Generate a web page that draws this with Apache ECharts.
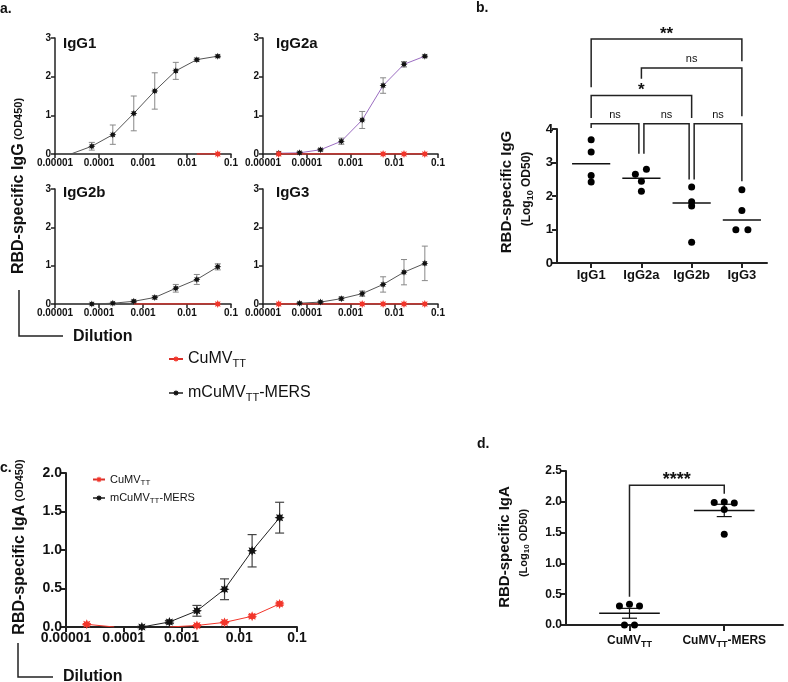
<!DOCTYPE html>
<html><head><meta charset="utf-8">
<script src="https://cdn.jsdelivr.net/npm/echarts@6/dist/echarts.min.js"></script>
<style>html,body{margin:0;padding:0;background:#fff}#c{width:788px;height:682px}</style>
</head><body><div id="c"></div>
<script>
// ---------- DATA ----------
const dilutions = [0.0000229, 0.0000686, 0.000206, 0.000617, 0.00185, 0.00556, 0.0167, 0.05];
const xTickLabels = ['0.00001', '0.0001', '0.001', '0.01', '0.1'];
// panel a : mCuMVTT-MERS (mean, error)
const igg1Mers  = [0, 0.20, 0.50, 1.05, 1.63, 2.15, 2.44, 2.53];
const igg1Err   = [0, 0.10, 0.25, 0.45, 0.47, 0.22, 0.04, 0.03];
const igg2aMers = [0.02, 0.03, 0.11, 0.33, 0.88, 1.77, 2.32, 2.53];
const igg2aErr  = [0, 0.03, 0.03, 0.08, 0.22, 0.20, 0.07, 0.03];
const igg2bMers = [null, 0.00, 0.02, 0.07, 0.17, 0.41, 0.64, 0.97];
const igg2bErr  = [0, 0.02, 0.02, 0.03, 0.04, 0.10, 0.13, 0.08];
const igg3Mers  = [null, 0.02, 0.05, 0.14, 0.27, 0.51, 0.83, 1.06];
const igg3Err   = [0, 0.02, 0.02, 0.04, 0.07, 0.20, 0.33, 0.45];
// panel a : CuMVTT
const igg1Cumv  = [null, null, null, null, null, null, 0, 0];
const igg2aCumv = [0, 0, 0, 0, 0, 0, 0, 0];
const igg2bCumv = [null, null, null, 0, 0, 0, 0, 0];
const igg3Cumv  = [0, 0, 0, 0, 0, 0, 0, 0];
// panel b
const subclasses = ['IgG1', 'IgG2a', 'IgG2b', 'IgG3'];
const bIgG1  = [3.68, 3.31, 2.61, 2.42];
const bIgG2a = [2.65, 2.80, 2.44, 2.14];
const bIgG2b = [2.27, 1.83, 1.70, 0.62];
const bIgG3  = [2.19, 1.57, 0.99, 0.99];
const bMedians = [2.96, 2.53, 1.79, 1.28];
const bSig = ['**', 'ns', '*', 'ns', 'ns', 'ns'];
// panel c
const igaMers    = [null, null, 0.00, 0.065, 0.21, 0.49, 0.99, 1.42];
const igaMersErr = [0, 0, 0.01, 0.02, 0.07, 0.135, 0.21, 0.20];
const igaCumv    = [0.035, 0, null, 0, 0.02, 0.06, 0.14, 0.30];
const igaCumvErr = [0.01, 0, 0, 0, 0.01, 0.01, 0.02, 0.02];
// panel d
const dGroups = ['CuMVTT', 'CuMVTT-MERS'];
const dCumv = [0.31, 0.335, 0.31, 0.00, 0.00];
const dMers = [1.99, 1.995, 1.98, 1.875, 1.475];
const dMeans = [0.19, 1.86];
const dSem = [0.08, 0.10];
const dSig = ['****'];

// ---------- LAYOUT / STYLE ----------
const FONT = '"Liberation Sans", Arial, Helvetica, sans-serif';
const AX = '#222';
function starPath(n, inner) {
  let d = '';
  for (let i = 0; i < 2 * n; i++) {
    const r = i % 2 ? inner : 1;
    const a = Math.PI * i / n - Math.PI / 2;
    d += (i ? 'L' : 'M') + (10 + 10 * r * Math.cos(a)).toFixed(2) + ',' + (10 + 10 * r * Math.sin(a)).toFixed(2);
  }
  return 'path://' + d + 'Z';
}
const STAR = starPath(8, 0.55);
const RED = '#f2352a';

const bJitter = [[0, 0, 0, 0], [-0.12, 0.1, 0, 0], [0, 0, 0, 0], [0, 0, -0.12, 0.12]];
const dJitter = [[-0.106, 0, 0.106, -0.053, 0.053], [-0.106, 0, 0.106, 0, 0]];
// brackets: [x1, x2, yTop, yLeftBottom, yRightBottom]
const bBrackets = [
  [1, 4, 6.69, 5.25, 6.02],
  [2, 4, 5.82, 5.50, 4.38],
  [1, 3, 5.00, 4.33, 4.33],
  [1, 1.95, 4.16, 4.03, 3.26],
  [2.05, 2.95, 4.16, 3.26, 2.49],
  [3.05, 4, 4.16, 2.49, 2.44]
];
const dBrackets = [[1, 2, 2.27, 0.46, 2.13]];

const grids = [
  {left: 55, top: 38, width: 176, height: 116},
  {left: 263, top: 38, width: 175, height: 116},
  {left: 55, top: 189, width: 176, height: 115},
  {left: 263, top: 189, width: 175, height: 115},
  {left: 557, top: 129, width: 210, height: 134},
  {left: 66, top: 473, width: 231, height: 154},
  {left: 566, top: 471, width: 217, height: 154}
];

function logX(gi, fs, lw, tl) {
  return {type: 'log', logBase: 10, gridIndex: gi, min: 0.00001, max: 0.1,
    axisLine: {show: true, onZero: false, lineStyle: {color: AX, width: lw}},
    axisTick: {show: true, length: tl, lineStyle: {color: AX, width: lw}},
    minorTick: {show: false}, splitLine: {show: false},
    axisLabel: {fontSize: fs, fontWeight: 'bold', color: '#111', margin: 4, fontFamily: FONT,
      showMinLabel: true, showMaxLabel: true,
      formatter: v => xTickLabels[Math.round(Math.log10(v)) + 5]}};
}
function valY(gi, max, interval, fs, lw, tl, dec) {
  return {type: 'value', gridIndex: gi, min: 0, max: max, interval: interval,
    axisLine: {show: true, onZero: false, lineStyle: {color: AX, width: lw}},
    axisTick: {show: true, length: tl, lineStyle: {color: AX, width: lw}},
    splitLine: {show: false},
    axisLabel: {fontSize: fs, fontWeight: 'bold', color: '#111', margin: 4, fontFamily: FONT,
      formatter: v => v.toFixed(dec)}};
}

function pts(vals, shown) {
  return dilutions.map((d, i) => {
    if (vals[i] == null) return [d, '-'];
    const item = {value: [d, vals[i]]};
    if (shown && shown.indexOf(i) < 0) item.symbol = 'none';
    return item;
  });
}
function lineS(name, axi, vals, color, lineColor, size, shown, lw) {
  return {type: 'line', name: name, xAxisIndex: axi, yAxisIndex: axi, data: pts(vals, shown),
    symbol: STAR, symbolSize: size, showAllSymbol: true, z: 3,
    itemStyle: {color: color, opacity: 1}, lineStyle: {color: lineColor, width: lw}, emphasis: {disabled: true}};
}
function errS(axi, vals, errs, color, cap, lw) {
  const data = [];
  dilutions.forEach((d, i) => { if (vals[i] != null && errs[i]) data.push([d, vals[i] - errs[i], vals[i] + errs[i]]); });
  return {type: 'custom', name: 'err', xAxisIndex: axi, yAxisIndex: axi, clip: false, silent: true, z: 2,
    data: data, encode: {x: 0, y: [1, 2]},
    renderItem: (p, api) => {
      const t = api.coord([api.value(0), api.value(2)]);
      const b = api.coord([api.value(0), api.value(1)]);
      const st = {stroke: color, lineWidth: lw};
      return {type: 'group', children: [
        {type: 'line', shape: {x1: t[0], y1: t[1], x2: b[0], y2: b[1]}, style: st},
        {type: 'line', shape: {x1: t[0] - cap, y1: t[1], x2: t[0] + cap, y2: t[1]}, style: st},
        {type: 'line', shape: {x1: b[0] - cap, y1: b[1], x2: b[0] + cap, y2: b[1]}, style: st}]};
    }};
}
function bracketS(axi, brackets, labels, fsStar, fsNs) {
  return {type: 'custom', name: 'sig', xAxisIndex: axi, yAxisIndex: axi, clip: false, silent: true, z: 4,
    data: brackets,
    renderItem: (p, api) => {
      const x1 = api.value(0), x2 = api.value(1), yt = api.value(2), yl = api.value(3), yr = api.value(4);
      const a = api.coord([x1, yl]), b = api.coord([x1, yt]), c = api.coord([x2, yt]), d = api.coord([x2, yr]);
      const lab = labels[p.dataIndex];
      const isStar = lab.indexOf('*') >= 0;
      return {type: 'group', children: [
        {type: 'polyline', shape: {points: [a, b, c, d]}, style: {stroke: AX, lineWidth: 1.5, fill: null}},
        {type: 'text', x: (b[0] + c[0]) / 2, y: b[1] - (isStar ? 5 : 9),
          style: {text: lab, fill: '#111', align: 'center', verticalAlign: 'middle',
            font: (isStar ? 'bold ' + fsStar : fsNs) + 'px ' + FONT}}]};
    }};
}
function hLineS(axi, centers, vals, half, lw) {
  return {type: 'custom', name: 'ctr', xAxisIndex: axi, yAxisIndex: axi, clip: false, silent: true, z: 2,
    data: centers.map((c, i) => [c, vals[i]]),
    renderItem: (p, api) => {
      const l = api.coord([api.value(0) - half, api.value(1)]);
      const r = api.coord([api.value(0) + half, api.value(1)]);
      return {type: 'line', shape: {x1: l[0], y1: l[1], x2: r[0], y2: r[1]}, style: {stroke: '#111', lineWidth: lw}};
    }};
}

const bGroups = [bIgG1, bIgG2a, bIgG2b, bIgG3];
const bPoints = [];
bGroups.forEach((g, gi) => g.forEach((v, j) => bPoints.push([gi + 1 + bJitter[gi][j], v])));
const dPoints = [];
[dCumv, dMers].forEach((g, gi) => g.forEach((v, j) => dPoints.push([gi + 1 + dJitter[gi][j], v])));

const subRich = (fs, sfs, w, pad) => ({
  m: {fontSize: fs, fontWeight: w, color: '#111', fontFamily: FONT},
  s: {fontSize: sfs, fontWeight: w, color: '#111', fontFamily: FONT, verticalAlign: 'bottom', padding: [pad, 0, 0, 0]}
});
const legendFmt = n => n === 'CuMVTT' ? '{m|CuMV}{s|TT}' : '{m|mCuMV}{s|TT}{m|-MERS}';

const option = {
  animation: false,
  backgroundColor: '#fff',
  textStyle: {fontFamily: FONT},
  grid: grids,
  xAxis: [
    logX(0, 10, 1.5, 4), logX(1, 10, 1.5, 4), logX(2, 10, 1.5, 4), logX(3, 10, 1.5, 4),
    {type: 'value', gridIndex: 4, min: 0.32, max: 4.5,
      axisLine: {show: true, onZero: false, lineStyle: {color: AX, width: 2}},
      axisTick: {show: true, length: 5, customValues: [1, 2, 3, 4], lineStyle: {color: AX, width: 2}},
      splitLine: {show: false},
      axisLabel: {customValues: [1, 2, 3, 4], fontSize: 13, fontWeight: 'bold', color: '#111', margin: 6, fontFamily: FONT,
        formatter: v => subclasses[Math.round(v) - 1]}},
    logX(5, 14, 2, 5),
    {type: 'value', gridIndex: 6, min: 0.33, max: 2.62,
      axisLine: {show: true, onZero: false, lineStyle: {color: AX, width: 2}},
      axisTick: {show: true, length: 6, customValues: [1, 2], lineStyle: {color: AX, width: 2}},
      splitLine: {show: false},
      axisLabel: {customValues: [1, 2], margin: 8, fontFamily: FONT,
        formatter: v => Math.round(v) === 1 ? '{m|CuMV}{s|TT}' : '{m|CuMV}{s|TT}{m|-MERS}',
        rich: subRich(12, 9, 'bold', 7)}}
  ],
  yAxis: [
    valY(0, 3, 1, 10, 1.5, 4, 0), valY(1, 3, 1, 10, 1.5, 4, 0), valY(2, 3, 1, 10, 1.5, 4, 0), valY(3, 3, 1, 10, 1.5, 4, 0),
    valY(4, 4, 1, 13, 2, 5, 0),
    valY(5, 2, 0.5, 14, 2, 5, 1),
    valY(6, 2.5, 0.5, 12, 2, 5, 1)
  ],
  legend: [
    {left: 163, top: 346, orient: 'vertical', itemGap: 16, itemWidth: 14, itemHeight: 8,
      data: ['CuMVTT', 'mCuMVTT-MERS'], selectedMode: false, formatter: legendFmt,
      textStyle: {rich: subRich(16, 11, 'normal', 9)}},
    {left: 87, top: 469, orient: 'vertical', itemGap: 6, itemWidth: 12, itemHeight: 8,
      data: ['CuMVTT', 'mCuMVTT-MERS'], selectedMode: false, formatter: legendFmt,
      textStyle: {rich: subRich(11, 8, 'normal', 6)}}
  ],
  series: [
    errS(0, igg1Mers, igg1Err, '#888', 3, 1),
    errS(1, igg2aMers, igg2aErr, '#888', 3, 1),
    errS(2, igg2bMers, igg2bErr, '#888', 3, 1),
    errS(3, igg3Mers, igg3Err, '#888', 3, 1),
    lineS('mCuMVTT-MERS', 0, igg1Mers, '#111', '#555', 7, [1, 2, 3, 4, 5, 6, 7], 1),
    lineS('mCuMVTT-MERS', 1, igg2aMers, '#111', '#9a6cc0', 7, null, 1),
    lineS('mCuMVTT-MERS', 2, igg2bMers, '#111', '#555', 7, null, 1),
    lineS('mCuMVTT-MERS', 3, igg3Mers, '#111', '#555', 7, null, 1),
    lineS('CuMVTT', 0, igg1Cumv, RED, '#d9302a', 8, [7], 1.3),
    lineS('CuMVTT', 1, igg2aCumv, RED, '#d9302a', 8, [0, 5, 6, 7], 1.3),
    lineS('CuMVTT', 2, igg2bCumv, RED, '#d9302a', 8, [7], 1.3),
    lineS('CuMVTT', 3, igg3Cumv, RED, '#d9302a', 8, [0, 4, 5, 6, 7], 1.3),
    // panel b
    hLineS(4, [1, 2, 3, 4], bMedians, 0.38, 1.5),
    {type: 'scatter', name: 'bpts', xAxisIndex: 4, yAxisIndex: 4, data: bPoints, symbol: 'circle', symbolSize: 7,
      itemStyle: {color: '#000', opacity: 1}, z: 3, silent: true},
    bracketS(4, bBrackets, bSig, 17, 11),
    // panel c
    errS(5, igaMers, igaMersErr, '#444', 4.5, 1.2),
    errS(5, igaCumv, igaCumvErr, RED, 4, 1),
    lineS('mCuMVTT-MERS', 5, igaMers, '#111', '#222', 10, null, 1),
    lineS('CuMVTT', 5, igaCumv, RED, RED, 10, [0, 4, 5, 6, 7], 1),
    // panel d
    hLineS(6, [1, 2], dMeans, 0.32, 1.5),
    {type: 'custom', name: 'sem', xAxisIndex: 6, yAxisIndex: 6, clip: false, silent: true, z: 2,
      data: dMeans.map((m, i) => [i + 1, m - dSem[i], m + dSem[i]]),
      renderItem: (p, api) => {
        const t = api.coord([api.value(0), api.value(2)]), b = api.coord([api.value(0), api.value(1)]);
        const st = {stroke: '#111', lineWidth: 1.2}, cap = 7.5;
        return {type: 'group', children: [
          {type: 'line', shape: {x1: t[0], y1: t[1], x2: b[0], y2: b[1]}, style: st},
          {type: 'line', shape: {x1: t[0] - cap, y1: t[1], x2: t[0] + cap, y2: t[1]}, style: st},
          {type: 'line', shape: {x1: b[0] - cap, y1: b[1], x2: b[0] + cap, y2: b[1]}, style: st}]};
      }},
    {type: 'scatter', name: 'dpts', xAxisIndex: 6, yAxisIndex: 6, data: dPoints, symbol: 'circle', symbolSize: 7,
      itemStyle: {color: '#000', opacity: 1}, z: 3, silent: true},
    bracketS(6, dBrackets, dSig, 18, 11)
  ],
  graphic: [
    {type: 'text', x: 0, y: 2, style: {text: 'a.', font: 'bold 14px ' + FONT, fill: '#111'}},
    {type: 'text', x: 476, y: 1, style: {text: 'b.', font: 'bold 14px ' + FONT, fill: '#111'}},
    {type: 'text', x: 0, y: 461, style: {text: 'c.', font: 'bold 14px ' + FONT, fill: '#111'}},
    {type: 'text', x: 477, y: 437, style: {text: 'd.', font: 'bold 14px ' + FONT, fill: '#111'}},
    // subplot titles
    {type: 'text', x: 63, y: 44, style: {text: 'IgG1', font: 'bold 15px ' + FONT, fill: '#111', verticalAlign: 'middle'}},
    {type: 'text', x: 276, y: 44, style: {text: 'IgG2a', font: 'bold 15px ' + FONT, fill: '#111', verticalAlign: 'middle'}},
    {type: 'text', x: 63, y: 193, style: {text: 'IgG2b', font: 'bold 15px ' + FONT, fill: '#111', verticalAlign: 'middle'}},
    {type: 'text', x: 276, y: 193, style: {text: 'IgG3', font: 'bold 15px ' + FONT, fill: '#111', verticalAlign: 'middle'}},
    // y titles
    {type: 'text', x: 19, y: 186, rotation: Math.PI / 2,
      style: {text: '{m|RBD-specific IgG} {s|(OD450)}', align: 'center', verticalAlign: 'middle',
        rich: {m: {font: 'bold 16px ' + FONT, fill: '#111'}, s: {font: 'bold 11px ' + FONT, fill: '#111'}}}},
    {type: 'text', x: 507, y: 192, rotation: Math.PI / 2,
      style: {text: 'RBD-specific IgG', align: 'center', verticalAlign: 'middle', font: 'bold 15px ' + FONT, fill: '#111'}},
    {type: 'text', x: 527, y: 189, rotation: Math.PI / 2,
      style: {text: '{a|(Log}{b|10}{a| OD50)}', align: 'center', verticalAlign: 'middle',
        rich: {a: {font: 'bold 12px ' + FONT, fill: '#111'}, b: {font: 'bold 9px ' + FONT, fill: '#111', verticalAlign: 'bottom', padding: [7, 0, 0, 0]}}}},
    {type: 'text', x: 20, y: 547, rotation: Math.PI / 2,
      style: {text: '{m|RBD-specific IgA} {s|(OD450)}', align: 'center', verticalAlign: 'middle',
        rich: {m: {font: 'bold 16px ' + FONT, fill: '#111'}, s: {font: 'bold 11px ' + FONT, fill: '#111'}}}},
    {type: 'text', x: 505, y: 547, rotation: Math.PI / 2,
      style: {text: 'RBD-specific IgA', align: 'center', verticalAlign: 'middle', font: 'bold 15px ' + FONT, fill: '#111'}},
    {type: 'text', x: 524, y: 543, rotation: Math.PI / 2,
      style: {text: '{a|(Log}{b|10}{a| OD50)}', align: 'center', verticalAlign: 'middle',
        rich: {a: {font: 'bold 11px ' + FONT, fill: '#111'}, b: {font: 'bold 8px ' + FONT, fill: '#111', verticalAlign: 'bottom', padding: [6, 0, 0, 0]}}}},
    // Dilution brackets
    {type: 'polyline', shape: {points: [[19, 290], [19, 336], [63, 336]]}, style: {stroke: '#222', lineWidth: 1.5, fill: null}},
    {type: 'text', x: 73, y: 337, style: {text: 'Dilution', font: 'bold 16px ' + FONT, fill: '#111', verticalAlign: 'middle'}},
    {type: 'polyline', shape: {points: [[18, 643], [18, 677], [53, 677]]}, style: {stroke: '#222', lineWidth: 1.5, fill: null}},
    {type: 'text', x: 63, y: 677, style: {text: 'Dilution', font: 'bold 16px ' + FONT, fill: '#111', verticalAlign: 'middle'}}
  ]
};
const chart = echarts.init(document.getElementById('c'));
chart.setOption(option);
</script>
</body></html>
